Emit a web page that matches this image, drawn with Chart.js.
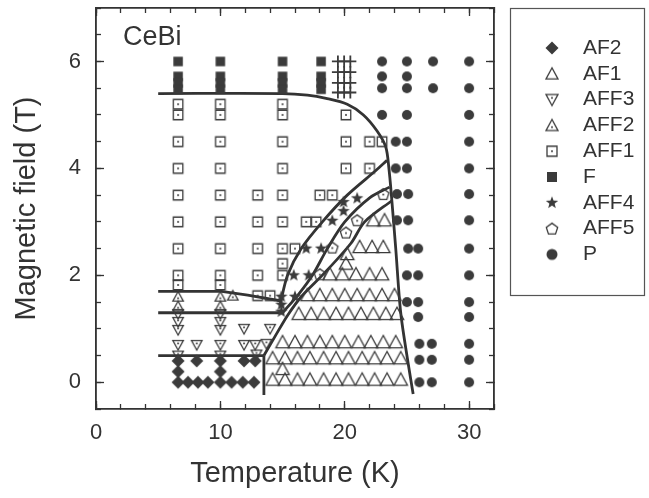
<!DOCTYPE html>
<html lang="en">
<head>
<meta charset="UTF-8" />
<title>CeBi phase diagram</title>
<style>
  body { margin: 0; background: #fff; }
  #caja { width: 649px; height: 498px; }
</style>
</head>
<body>
<div id="caja"><canvas id="grafico"></canvas></div>
<script src="https://cdn.jsdelivr.net/npm/chart.js"></script>
<script>
// points as [temperature K, field T]
const AF2 = [[6.6,0],[7.4,0],[8.2,0],[9.0,0],[10,0],[10.9,0],[11.8,0],[12.7,0],
  [6.6,0.2],[10,0.2],[6.6,0.4],[8.1,0.4],[10,0.4],[11.9,0.4],[12.8,0.4]];
const AF1 = [
  [14.2,0.05],[15.2,0.05],[16.2,0.05],[17.2,0.05],[18.3,0.05],[19.3,0.05],[20.3,0.05],[21.4,0.05],[22.4,0.05],[23.4,0.05],[24.5,0.05],
  [14.2,0.45],[15.2,0.45],[16.2,0.45],[17.2,0.45],[18.3,0.45],[19.3,0.45],[20.3,0.45],[21.4,0.45],[22.4,0.45],[23.4,0.45],[24.5,0.45],
  [15.0,0.75],[16.0,0.75],[17.0,0.75],[18.0,0.75],[19.0,0.75],[20.0,0.75],[21.1,0.75],[22.1,0.75],[23.1,0.75],[24.1,0.75],
  [16.3,1.28],[17.3,1.28],[18.3,1.28],[19.3,1.28],[20.3,1.28],[21.3,1.28],[22.3,1.28],[23.3,1.28],[24.2,1.28],
  [17.0,1.63],[18.0,1.63],[19.0,1.63],[20.0,1.63],[21.0,1.63],[22.0,1.63],[23.0,1.63],[24.0,1.63],
  [18.8,2.02],[19.8,2.02],[20.9,2.02],[22.0,2.02],[23.0,2.02],
  [21.2,2.53],[22.2,2.53],[23.1,2.53],
  [22.3,3.03],[23.2,3.03],
  [15.0,0.25],[20.1,2.22],[20.2,2.4]];
const AFF3 = [[6.6,1.28],[6.6,1.13],[6.6,0.98],[6.6,0.7],[6.6,0.5],
  [10,1.28],[10,1.13],[10,0.98],[10,0.7],[10,0.5],
  [8.1,0.7],[11.9,1.0],[11.9,0.7],[12.8,0.7],[13.7,0.72],[14.0,1.0],[12.9,0.52]];
const AFF2 = [[6.6,1.6],[6.6,1.42],[10,1.6],[10,1.42],[11,1.62]];
const AFF1 = [
  [6.6,5.2],[6.6,5.0],[6.6,4.5],[6.6,4.0],[6.6,3.5],[6.6,3.0],[6.6,2.5],[6.6,2.0],[6.6,1.82],
  [10,5.2],[10,5.0],[10,4.5],[10,4.0],[10,3.5],[10,3.0],[10,2.5],[10,2.0],[10,1.82],
  [13,3.5],[13,3.0],[13,2.5],[13,2.0],[13,1.62],[14,1.62],
  [15,5.2],[15,5.0],[15,4.5],[15,4.0],[15,3.5],[15,3.0],[15,2.5],[15,2.22],[15,2.0],
  [16,2.5],[16.9,3.0],[17.7,3.0],[18,3.5],[19,3.5],
  [20.1,5.0],[20.1,4.5],[20.1,4.0],[22,4.5],[22,4.0],[23,4.5]];
const F = [[6.6,6.0],[6.6,5.72],[6.6,5.6],[6.6,5.48],
  [10,6.0],[10,5.72],[10,5.6],[10,5.48],
  [15,6.0],[15,5.72],[15,5.6],[15,5.48],
  [18.1,6.0],[18.1,5.72],[18.1,5.6],[18.1,5.48]];
const AFF4 = [[21.0,3.44],[19.9,3.37],[19.9,3.2],[19.0,3.02],[18.1,2.5],[16.9,2.5],
  [17.1,2.0],[15.9,2.0],[16.0,1.6],[14.9,1.6],[14.9,1.45],[14.9,1.32]];
const AFF5 = [[23.1,3.52],[21.0,3.03],[20.1,2.8],[19.0,2.52],[18.0,2.02]];
const P = [[23,6.0],[25,6.0],[27.1,6.0],[30,6.0],
  [23,5.72],[25,5.72],
  [23,5.5],[25,5.5],[27.1,5.5],[30,5.5],
  [23,5.0],[25,5.0],[30,5.0],
  [24.1,4.5],[25,4.5],[30,4.5],
  [24.1,4.0],[25,4.0],[30,4.0],
  [24.2,3.52],[25.1,3.52],[30,3.52],
  [24.2,3.03],[25.1,3.03],[30,3.03],
  [25.1,2.5],[25.9,2.5],[30,2.5],
  [25.0,2.0],[25.9,2.0],[30,2.0],
  [25.0,1.5],[25.9,1.5],[30,1.5],
  [25.9,1.22],[30,1.22],
  [26.0,0.72],[27.0,0.72],[30,0.72],
  [26.0,0.42],[27.0,0.42],[30,0.42],
  [26.0,0.0],[27.0,0.0],[30,0.0]];
// the "#" mark at 20 K
const HASH = [[19.45,6.0],[19.95,6.0],[20.45,6.0],[19.45,5.8],[19.95,5.8],[20.45,5.8],
  [19.45,5.6],[19.95,5.6],[20.45,5.6],[19.45,5.42],[19.95,5.42],[20.45,5.42]];

// phase boundaries
const lineaP = [[5,5.4],[15,5.4],[17,5.37],[18.5,5.31],[20.2,5.2],[21.5,5.0],[22.6,4.7],[23.3,4.4],
  [23.55,4.0],[23.75,3.5],[24.1,2.5],[24.5,1.3],[25.1,0.35],[25.5,-0.22]];
const linea17 = [[5,1.7],[10.1,1.7],[12.2,1.63],[14.9,1.52]];
const linea13 = [[5,1.3],[15.1,1.3]];
const linea05 = [[5,0.5],[13.5,0.5]];
const lineaV = [[13.5,0.5],[13.5,-0.24]];
const lineaA = [[14.8,1.45],[15.4,2.0],[16.5,2.5],[18.2,3.0],[20.2,3.5],[22.5,3.96],[23.4,4.15]];
const lineaB = [[15.0,1.3],[16.3,1.65],[17.4,2.0],[18.6,2.5],[20,3.0],[22,3.45],[23.6,3.65]];
const lineaC = [[13.5,0.5],[14.5,0.9],[15.4,1.25],[16.5,1.6],[18.4,2.05],[20.5,2.6],[21.6,3.0],[23.8,3.4]];

const INK = '#3b3b3b';
const FUENTE = '"Liberation Sans", Arial, sans-serif';

function simbolo(tipo, tam) {
  const s = 2 * Math.ceil(tam / 2 + 2);
  const cv = document.createElement('canvas');
  cv.width = s; cv.height = s;
  const g = cv.getContext('2d');
  const c = s / 2, r = tam / 2;
  g.fillStyle = INK; g.strokeStyle = INK; g.lineWidth = 1.3;
  let punto = null;
  g.beginPath();
  if (tipo === 'rombo') {
    g.moveTo(c, c - r); g.lineTo(c + r, c); g.lineTo(c, c + r); g.lineTo(c - r, c);
    g.closePath(); g.fill();
  } else if (tipo === 'tri' || tipo === 'triPunto') {
    g.moveTo(c, c - r); g.lineTo(c + r, c + r * 0.85); g.lineTo(c - r, c + r * 0.85);
    g.closePath(); g.stroke();
    if (tipo === 'triPunto') punto = c + r * 0.3;
  } else if (tipo === 'triAbajo') {
    g.moveTo(c, c + r); g.lineTo(c + r, c - r * 0.85); g.lineTo(c - r, c - r * 0.85);
    g.closePath(); g.stroke();
    punto = c - r * 0.3;
  } else if (tipo === 'cuadroPunto') {
    g.rect(c - r, c - r, tam, tam); g.stroke(); punto = c;
  } else if (tipo === 'cuadro') {
    g.rect(c - r, c - r, tam, tam); g.fill();
  } else if (tipo === 'circulo') {
    g.arc(c, c, r, 0, Math.PI * 2); g.fill();
  } else if (tipo === 'estrella') {
    for (let i = 0; i < 10; i++) {
      const a = -Math.PI / 2 + i * Math.PI / 5;
      const rr = i % 2 ? r * 0.42 : r;
      g.lineTo(c + rr * Math.cos(a), c + rr * Math.sin(a));
    }
    g.closePath(); g.fill();
  } else if (tipo === 'penta' || tipo === 'pentaPunto') {
    for (let i = 0; i < 5; i++) {
      const a = -Math.PI / 2 + i * 2 * Math.PI / 5;
      g.lineTo(c + r * Math.cos(a), c + r * Math.sin(a) + r * 0.1);
    }
    g.closePath(); g.stroke();
    if (tipo === 'pentaPunto') punto = c + r * 0.1;
  }
  if (punto !== null) {
    g.beginPath(); g.arc(c, punto, 1, 0, Math.PI * 2); g.fill();
  }
  return cv;
}

const puntos = arr => arr.map(p => ({ x: p[0], y: p[1] }));

function serie(label, arr, estilo, leyenda) {
  return { label, data: puntos(arr), pointStyle: estilo, simbolo: leyenda, pointRadius: 5, showLine: false };
}
function linea(arr, tension) {
  return { label: '', data: puntos(arr), showLine: true, pointRadius: 0, borderColor: '#333',
    borderWidth: 2.8, tension: tension, fill: false };
}

// fixed box size, and no extra padding from the tick labels
function ajustar(s, tam) {
  if (s.isHorizontal()) s.height = tam; else s.width = tam;
  s.paddingTop = 0; s.paddingBottom = 0; s.paddingLeft = 0; s.paddingRight = 0;
}

function eje(pos, paso, largo, peso, tam) {
  return {
    type: 'linear', position: pos, weight: peso,
    min: pos === 'top' || pos === 'bottom' ? 0 : -0.5,
    max: pos === 'top' || pos === 'bottom' ? 32 : 7,
    ticks: { stepSize: paso, display: false, includeBounds: false, autoSkip: false },
    grid: { drawOnChartArea: false, drawTicks: true, tickLength: largo, tickColor: '#333', tickWidth: 1.3 },
    border: { display: true, color: '#333', width: 1.6 },
    afterFit: s => ajustar(s, tam)
  };
}

const ejeX = eje('bottom', 10, -8, 1, 89);
ejeX.ticks = { stepSize: 10, includeBounds: false, autoSkip: false, maxRotation: 0, padding: 19,
  color: '#333', font: { family: FUENTE, size: 22 } };
ejeX.title = { display: true, text: 'Temperature (K)', color: '#333',
  font: { family: FUENTE, size: 29 }, padding: { top: 0, bottom: 7 } };

const ejeY = eje('left', 2, -8, 1, 96);
ejeY.ticks = { stepSize: 2, includeBounds: false, autoSkip: false, padding: 23,
  color: '#333', font: { family: FUENTE, size: 22 } };
ejeY.title = { display: true, text: 'Magnetic field (T)', color: '#333',
  font: { family: FUENTE, size: 29 }, padding: { top: 10, bottom: 0 } };

const extras = {
  id: 'extras',
  afterDraw(chart) {
    const { ctx, chartArea, scales } = chart;
    ctx.save();
    // sample name
    ctx.font = '27px ' + FUENTE;
    ctx.fillStyle = '#333';
    ctx.textBaseline = 'middle';
    ctx.fillText('CeBi', scales.x.getPixelForValue(2.17), scales.y.getPixelForValue(6.45));
    // legend box
    const x0 = chartArea.right + 16, y0 = chartArea.top;
    ctx.strokeStyle = '#555';
    ctx.lineWidth = 1.2;
    ctx.strokeRect(x0 + 0.5, y0 + 0.5, chart.width - 5 - x0, 287);
    ctx.font = '21px ' + FUENTE;
    let y = y0 + 40;
    chart.data.datasets.forEach(ds => {
      if (!ds.simbolo) return;
      ctx.drawImage(ds.simbolo, x0 + 42 - ds.simbolo.width / 2, y - ds.simbolo.height / 2);
      ctx.fillText(ds.label, x0 + 73, y);
      y += 25.8;
    });
    ctx.restore();
  }
};

new Chart(document.getElementById('grafico'), {
  type: 'scatter',
  data: {
    datasets: [
      serie('AF2', AF2, simbolo('rombo', 13), simbolo('rombo', 13)),
      serie('AF1', AF1, simbolo('tri', 13.4), simbolo('tri', 12)),
      serie('AFF3', AFF3, simbolo('triAbajo', 10.5), simbolo('triAbajo', 12)),
      serie('AFF2', AFF2, simbolo('triPunto', 10.5), simbolo('triPunto', 12)),
      serie('AFF1', AFF1, simbolo('cuadroPunto', 9.5), simbolo('cuadroPunto', 10)),
      serie('F', F, simbolo('cuadro', 9.5), simbolo('cuadro', 10)),
      serie('AFF4', AFF4, simbolo('estrella', 13), simbolo('estrella', 13)),
      serie('AFF5', AFF5, simbolo('pentaPunto', 12), simbolo('penta', 12)),
      serie('P', P, simbolo('circulo', 10), simbolo('circulo', 11)),
      { label: '', data: puntos(HASH), pointStyle: 'cross', pointRadius: 6, borderColor: INK,
        borderWidth: 1.8, showLine: false },
      linea(lineaP, 0.3), linea(linea17, 0), linea(linea13, 0), linea(linea05, 0), linea(lineaV, 0),
      linea(lineaA, 0.3), linea(lineaB, 0.3), linea(lineaC, 0.3)
    ]
  },
  options: {
    responsive: true,
    maintainAspectRatio: false,
    animation: false,
    events: [],
    layout: { padding: { top: 8, right: 155, bottom: 0, left: 0 } },
    plugins: { legend: { display: false }, tooltip: { enabled: false } },
    scales: {
      xm: eje('bottom', 2, -5, 0, 0),
      x: ejeX,
      xt: eje('top', 2, -5, 0, 0),
      xtM: eje('top', 10, -8, 1, 0),
      ym: eje('left', 0.5, -5, 0, 0),
      y: ejeY,
      yr: eje('right', 0.5, -5, 0, 0),
      yrM: eje('right', 2, -8, 1, 0)
    }
  },
  plugins: [extras]
});
</script>
</body>
</html>
